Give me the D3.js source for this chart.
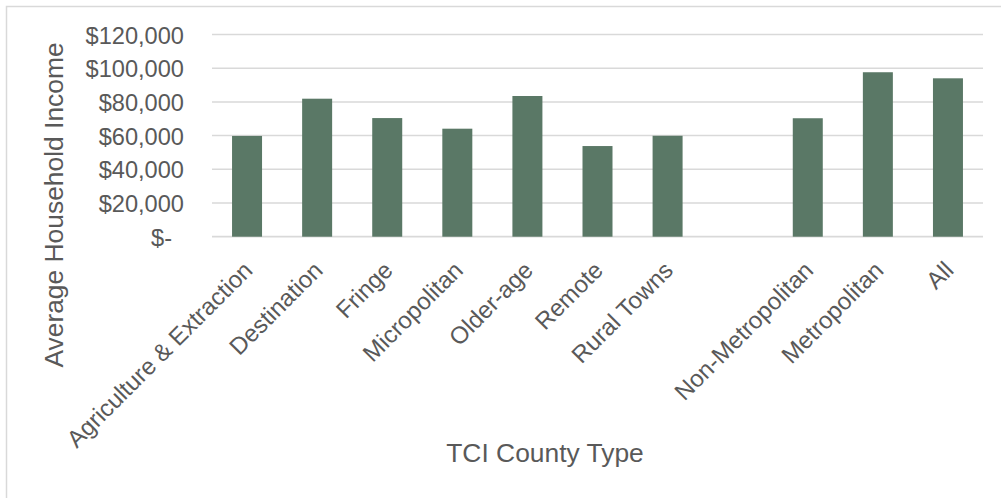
<!DOCTYPE html>
<html>
<head>
<meta charset="utf-8">
<script src="https://cdn.jsdelivr.net/npm/d3@7"></script>
<style>
  html, body { margin: 0; padding: 0; background: #fff; }
  svg { display: block; font-family: "Liberation Sans", Arial, sans-serif; }
</style>
</head>
<body>
<div id="chart"></div>
<script>
// ---- data ----
const categories = ["Agriculture & Extraction", "Destination", "Fringe", "Micropolitan", "Older-age", "Remote", "Rural Towns", "", "Non-Metropolitan", "Metropolitan", "All"];
const values = [59800, 81900, 70400, 64100, 83500, 53800, 59900, null, 70300, 97600, 94000];
const yTicks = [0, 20000, 40000, 60000, 80000, 100000, 120000];
const yTitle = "Average Household Income";
const xTitle = "TCI County Type";

// ---- layout ----
const W = 1001, H = 498;
const plot = { left: 212, right: 983, top: 34.5, bottom: 236.7 };
const textColor = "#595959";
const gridColor = "#d9d9d9";
const barColor = "#5a7866";

const svg = d3.select("#chart").append("svg").attr("width", W).attr("height", H);

// chart border
svg.append("rect")
  .attr("x", 6.5).attr("y", 6.5)
  .attr("width", W + 20).attr("height", H + 20)
  .attr("fill", "none").attr("stroke", gridColor).attr("stroke-width", 1.5);

const x = d3.scaleBand()
  .domain(categories.map((c, i) => i))
  .range([plot.left, plot.right])
  .paddingInner(0.572)
  .paddingOuter(0.286);

const y = d3.scaleLinear().domain([0, 120000]).range([plot.bottom, plot.top]);

const fmt = v => v === 0 ? "$-" : "$" + d3.format(",")(v);

// gridlines
svg.append("g").selectAll("line")
  .data(yTicks)
  .join("line")
  .attr("x1", plot.left).attr("x2", plot.right)
  .attr("y1", d => y(d)).attr("y2", d => y(d))
  .attr("stroke", gridColor)
  .attr("stroke-width", d => d === 0 ? 1.8 : 1.5);

// y axis labels
const yAxis = d3.axisLeft(y).tickValues(yTicks).tickFormat(fmt).tickSize(0).tickPadding(0);
const gy = svg.append("g").attr("transform", `translate(184,0)`).call(yAxis);
gy.select(".domain").remove();
gy.selectAll("text")
  .attr("fill", textColor)
  .attr("font-size", "23.6px")
  .attr("font-family", "Liberation Sans, Arial, sans-serif")
  .attr("dy", "0.36em")
  .attr("dx", d => d === 0 ? -12 : 0);

// bars
svg.append("g").selectAll("rect")
  .data(values.map((v, i) => ({ i, v })).filter(d => d.v !== null))
  .join("rect")
  .attr("x", d => x(d.i))
  .attr("width", x.bandwidth())
  .attr("y", d => y(d.v))
  .attr("height", d => y(0) - y(d.v))
  .attr("fill", barColor);

// x axis labels
const xAxis = d3.axisBottom(x).tickFormat(i => categories[i]).tickSize(0).tickPadding(0);
const gx = svg.append("g").attr("transform", `translate(0,${plot.bottom})`).call(xAxis);
gx.select(".domain").remove();
gx.selectAll(".tick text")
  .attr("fill", textColor)
  .attr("font-size", "24px")
  .attr("font-family", "Liberation Sans, Arial, sans-serif")
  .attr("text-anchor", "end")
  .attr("dy", 0)
  .attr("y", 0)
  .attr("transform", "translate(7,35) rotate(-45)");

// axis titles
svg.append("text")
  .attr("x", 545).attr("y", 462)
  .attr("text-anchor", "middle")
  .attr("font-size", "26.4px")
  .attr("fill", textColor)
  .text(xTitle);

svg.append("text")
  .attr("transform", "translate(63,205) rotate(-90)")
  .attr("text-anchor", "middle")
  .attr("font-size", "26.4px")
  .attr("fill", textColor)
  .text(yTitle);
</script>
</body>
</html>
